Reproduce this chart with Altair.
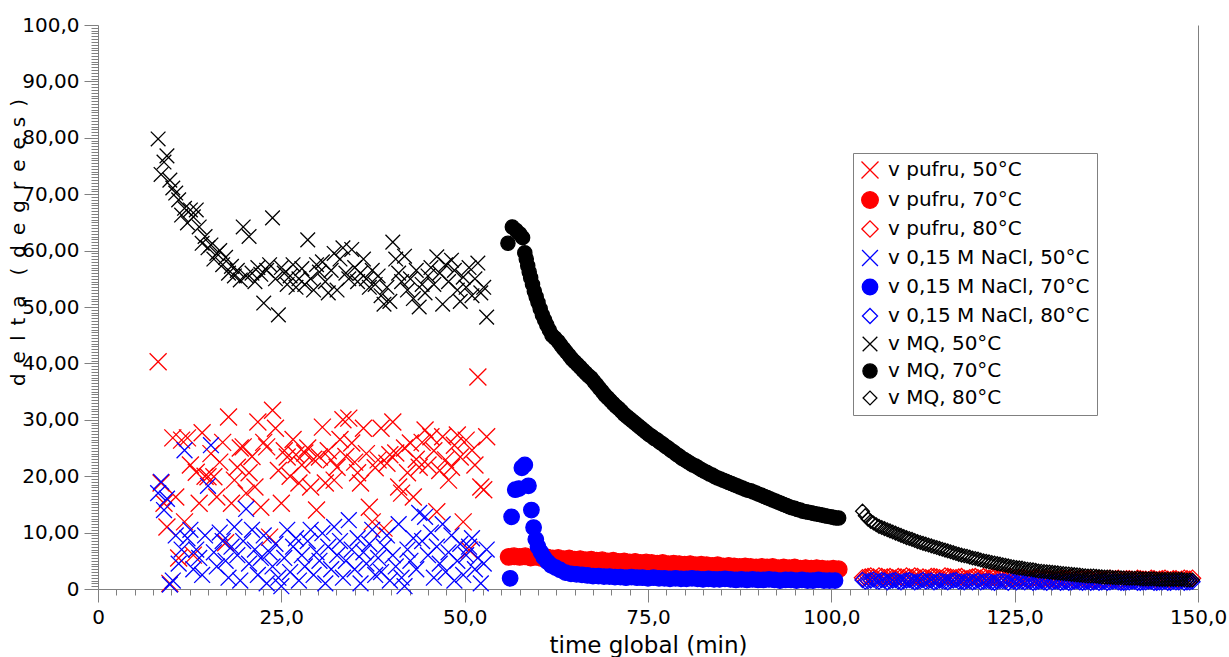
import altair as alt
import pandas as pd

# ---------------- data ----------------
t50 = [8.2, 8.6, 9.0, 9.4, 9.8, 10.2, 10.6, 11.0, 11.4, 11.8,
       12.2, 12.6, 13.0, 13.4, 13.8, 14.2, 14.6, 15.0, 15.4, 15.8,
       16.2, 16.6, 17.0, 17.4, 17.8, 18.2, 18.6, 19.0, 19.4, 19.8,
       20.2, 20.6, 21.0, 21.4, 21.8, 22.2, 22.6, 23.0, 23.4, 23.8,
       24.2, 24.6, 25.0, 25.4, 25.8, 26.2, 26.6, 27.0, 27.4, 27.8,
       28.2, 28.6, 29.0, 29.4, 29.8, 30.2, 30.6, 31.0, 31.4, 31.8,
       32.2, 32.6, 33.0, 33.4, 33.8, 34.2, 34.6, 35.0, 35.4, 35.8,
       36.2, 36.6, 37.0, 37.4, 37.8, 38.2, 38.6, 39.0, 39.4, 39.8,
       40.2, 40.6, 41.0, 41.4, 41.8, 42.2, 42.6, 43.0, 43.4, 43.8,
       44.2, 44.6, 45.0, 45.4, 45.8, 46.2, 46.6, 47.0, 47.4, 47.8,
       48.2, 48.6, 49.0, 49.4, 49.8, 50.2, 50.6, 51.0, 51.4, 51.8,
       52.2, 52.6, 53.0]

pufru50 = [40.3, 18.8, 15.2, 11.0, 1.0, 26.8, 16.3, 5.5, 26.4, 11.9,
           26.8, 22.0, 6.0, 20.7, 15.2, 27.7, 20.0, 19.9, 24.0, 19.9,
           16.3, 22.5, 26.0, 8.2, 30.5, 15.2, 19.3, 21.6, 25.0, 25.2,
           17.0, 20.6, 23.5, 18.1, 29.6, 14.5, 26.0, 25.2, 9.2, 31.7,
           28.5, 21.0, 15.2, 24.5, 23.4, 20.0, 26.5, 23.8, 18.8, 22.0,
           24.1, 25.0, 18.1, 23.0, 14.0, 23.4, 28.7, 18.8, 24.5, 22.9,
           19.3, 21.6, 26.5, 30.0, 23.5, 30.3, 25.9, 22.5, 20.6, 18.8,
           28.5, 24.0, 14.5, 11.9, 21.5, 22.9, 28.5, 10.8, 22.3, 23.8,
           29.6, 24.1, 18.1, 17.0, 25.0, 20.6, 25.9, 16.3, 23.0, 21.6,
           26.0, 28.2, 22.0, 27.0, 24.5, 13.7, 21.0, 27.0, 22.9, 19.3,
           21.6, 25.5, 27.3, 23.4, 11.9, 26.4, 6.9, 24.6, 22.0, 37.6,
           18.1, 17.6, 27.0]

nacl50 = [17.0, 19.0, 14.0, 16.0, 0.8, 1.5, 9.5, 4.5, 7.0, 24.6,
          9.0, 10.5, 3.5, 7.0, 5.5, 2.5, 9.5, 18.3, 25.5, 6.5,
          4.0, 10.0, 8.5, 5.0, 2.0, 7.5, 11.0, 6.0, 1.5, 8.5,
          14.2, 4.5, 10.5, 7.0, 2.5, 5.5, 9.5, 1.0, 6.5, 4.0,
          8.0, 2.0, 0.5, 5.5, 10.5, 3.0, 7.5, 9.0, 1.5, 6.0,
          4.0, 8.5, 10.5, 2.5, 6.5, 5.0, 9.9, 1.0, 7.5, 3.5,
          11.0, 6.0, 8.5, 2.0, 5.0, 12.2, 7.0, 3.5, 9.0, 1.0,
          6.5, 4.5, 8.0, 10.5, 2.5, 5.5, 3.0, 7.5, 9.5, 1.5,
          6.0, 4.0, 11.5, 2.0, 0.5, 7.0, 5.0, 9.0, 3.5, 13.5,
          8.5, 12.8, 6.0, 10.0, 2.0, 7.5, 4.5, 11.5, 3.0, 6.5,
          9.5, 1.5, 5.0, 8.0, 2.5, 6.0, 7.5, 9.0, 3.5, 5.5,
          1.0, 4.5, 7.0]

mq50 = [79.8, 73.5, 75.7, 76.8, 72.5, 71.1, 70.2, 69.0, 66.3, 67.5,
        64.9, 67.2, 66.0, 67.2, 64.2, 61.3, 62.5, 60.5, 61.0, 58.5,
        59.5, 60.0, 57.5, 58.8, 56.0, 57.2, 55.5, 56.5, 54.8, 64.2,
        55.5, 62.5, 56.0, 54.5, 57.0, 55.8, 50.7, 56.5, 57.5, 65.8,
        55.0, 48.6, 57.0, 56.0, 54.0, 55.5, 57.5, 53.5, 55.0, 56.8,
        54.0, 61.9, 55.0, 53.0, 57.5, 56.2, 58.0, 54.5, 52.5, 56.5,
        59.5, 53.0, 58.5, 60.5, 56.0, 55.0, 60.2, 57.0, 54.5, 56.0,
        58.5, 55.0, 53.5, 56.5, 54.0, 55.5, 52.0, 50.5, 53.5, 51.0,
        61.5, 58.5, 56.0, 54.5, 59.0, 53.0, 55.0, 51.5, 56.5, 50.0,
        54.0, 52.5, 55.5, 57.0, 54.0, 58.9, 56.0, 50.5, 57.5, 54.5,
        58.3, 56.5, 53.0, 51.0, 55.3, 53.5, 57.0, 52.0, 55.0, 57.8,
        52.5, 53.5, 48.2]

t70 = [56.0, 56.75, 57.5, 58.25, 59.0, 59.75, 60.5, 61.25, 62.0, 62.75,
       63.5, 64.25, 65.0, 65.75, 66.5, 67.25, 68.0, 68.75, 69.5, 70.25,
       71.0, 71.75, 72.5, 73.25, 74.0, 74.75, 75.5, 76.25, 77.0, 77.75,
       78.5, 79.25, 80.0, 80.75, 81.5, 82.25, 83.0, 83.75, 84.5, 85.25,
       86.0, 86.75, 87.5, 88.25, 89.0, 89.75, 90.5, 91.25, 92.0, 92.75,
       93.5, 94.25, 95.0, 95.75, 96.5, 97.25, 98.0, 98.75, 99.5, 100.25,
       101.0]

pufru70 = [5.7, 5.8, 5.7, 5.8, 5.6, 5.7, 5.5, 5.6, 5.4, 5.5,
           5.3, 5.4, 5.2, 5.3, 5.1, 5.2, 5.0, 5.1, 4.9, 5.0,
           4.8, 4.9, 4.7, 4.8, 4.6, 4.7, 4.6, 4.5, 4.6, 4.4,
           4.5, 4.4, 4.3, 4.4, 4.2, 4.3, 4.2, 4.1, 4.2, 4.0,
           4.1, 4.0, 3.9, 4.0, 3.9, 3.8, 3.9, 3.8, 3.9, 3.7,
           3.8, 3.7, 3.8, 3.6, 3.7, 3.6, 3.7, 3.6, 3.5, 3.6,
           3.5]

t_nacl70 = [56.2, 56.4, 56.9, 57.4, 57.8, 58.2, 58.7, 59.1, 59.4, 59.7,
            60.0, 60.4, 60.8, 61.3, 61.8, 62.4, 63.0,
            63.75, 64.5, 65.25, 66.0, 66.75, 67.5, 68.25, 69.0, 69.75, 70.5,
            71.25, 72.0, 72.75, 73.5, 74.25, 75.0, 75.75, 76.5, 77.25, 78.0,
            78.75, 79.5, 80.25, 81.0, 81.75, 82.5, 83.25, 84.0, 84.75, 85.5,
            86.25, 87.0, 87.75, 88.5, 89.25, 90.0, 90.75, 91.5, 92.25, 93.0,
            93.75, 94.5, 95.25, 96.0, 96.75, 97.5, 98.25, 99.0, 99.75, 100.5]
nacl70 = [1.9, 12.8, 17.6, 17.8, 21.5, 22.0, 18.3, 14.0, 10.9, 8.8,
          7.5, 6.5, 5.6, 4.8, 4.2, 3.8, 3.4,
          2.9, 2.7, 2.6, 2.5, 2.4, 2.3, 2.3, 2.2, 2.2, 2.1,
          2.1, 2.0, 2.1, 2.0, 2.0, 1.9, 2.0, 1.9, 1.9, 1.8,
          1.9, 1.8, 1.8, 1.9, 1.8, 1.7, 1.8, 1.7, 1.7, 1.8,
          1.7, 1.6, 1.7, 1.6, 1.7, 1.6, 1.6, 1.7, 1.6, 1.5,
          1.6, 1.6, 1.5, 1.6, 1.5, 1.5, 1.6, 1.5, 1.5, 1.5]

t_mq70_start = [55.9, 56.5, 57.0, 57.5, 57.9, 58.2, 58.4, 58.6, 58.8, 59.0,
                59.25, 59.5, 59.75, 60.0, 60.3, 60.6, 60.9, 61.2, 61.55, 61.9,
                62.3]
mq70_start = [61.3, 64.2, 63.6, 63.0, 62.3, 59.6, 58.5, 57.3, 56.2, 55.2,
              54.0, 52.8, 51.8, 50.8, 49.7, 48.6, 47.7, 46.8, 45.9, 45.0,
              44.5]
mq70_grid = [43.9, 42.6, 41.4, 40.3, 39.3, 38.3, 37.4, 36.2, 35.0, 33.9,
             32.9, 32.0, 31.0, 30.2, 29.4, 28.6, 27.8, 27.1, 26.4, 25.7,
             25.0, 24.3, 23.6, 22.9, 22.3, 21.8, 21.2, 20.7, 20.2, 19.7,
             19.3, 18.9, 18.5, 18.1, 17.7, 17.4, 17.0, 16.6, 16.2, 15.8,
             15.4, 15.0, 14.6, 14.3, 14.0, 13.7, 13.5, 13.3, 13.1, 12.9,
             12.7, 12.6]
t_mq70_mid = [63.125, 63.875, 64.625, 65.375, 66.125, 66.875, 67.625, 68.375, 69.125, 69.875,
              70.625, 71.375, 72.125, 72.875, 73.625, 74.375, 75.125, 75.875, 76.625, 77.375,
              78.125, 78.875, 79.625, 80.375, 81.125, 81.875, 82.625, 83.375, 84.125, 84.875,
              85.625, 86.375, 87.125, 87.875, 88.625, 89.375, 90.125, 90.875, 91.625, 92.375,
              93.125, 93.875, 94.625, 95.375, 96.125, 96.875, 97.625, 98.375, 99.125, 99.875,
              100.625]
mq70_mid = [43.2, 42.0, 40.8, 39.8, 38.8, 37.8, 36.8, 35.6, 34.4, 33.4,
            32.4, 31.5, 30.6, 29.8, 29.0, 28.2, 27.4, 26.7, 26.0, 25.3,
            24.6, 23.9, 23.2, 22.6, 22.0, 21.5, 20.9, 20.4, 19.9, 19.5,
            19.1, 18.7, 18.3, 17.9, 17.5, 17.2, 16.8, 16.4, 16.0, 15.6,
            15.2, 14.8, 14.4, 14.1, 13.8, 13.6, 13.4, 13.2, 13.0, 12.8,
            12.6]
t_mq70 = t_mq70_start + t70[9:] + t_mq70_mid
mq70 = mq70_start + mq70_grid + mq70_mid

t80_grid = [104.25, 105.0, 105.75, 106.5, 107.25, 108.0, 108.75, 109.5, 110.25, 111.0,
            111.75, 112.5, 113.25, 114.0, 114.75, 115.5, 116.25, 117.0, 117.75, 118.5,
            119.25, 120.0, 120.75, 121.5, 122.25, 123.0, 123.75, 124.5, 125.25, 126.0,
            126.75, 127.5, 128.25, 129.0, 129.75, 130.5, 131.25, 132.0, 132.75, 133.5,
            134.25, 135.0, 135.75, 136.5, 137.25, 138.0, 138.75, 139.5, 140.25, 141.0,
            141.75, 142.5, 143.25, 144.0, 144.75, 145.5, 146.25, 147.0, 147.75, 148.5,
            149.25]
t80_mid = [104.625, 105.375, 106.125, 106.875, 107.625, 108.375, 109.125, 109.875, 110.625, 111.375,
           112.125, 112.875, 113.625, 114.375, 115.125, 115.875, 116.625, 117.375, 118.125, 118.875,
           119.625, 120.375, 121.125, 121.875, 122.625, 123.375, 124.125, 124.875, 125.625, 126.375,
           127.125, 127.875, 128.625, 129.375, 130.125, 130.875, 131.625, 132.375, 133.125, 133.875,
           134.625, 135.375, 136.125, 136.875, 137.625, 138.375, 139.125, 139.875, 140.625, 141.375,
           142.125, 142.875, 143.625, 144.375, 145.125, 145.875, 146.625, 147.375, 148.125, 148.875]
t80 = t80_grid + t80_mid

pufru80 = [2.0, 2.2, 2.1, 2.3, 2.0, 2.2, 1.9, 2.1, 2.3, 2.0,
           2.2, 2.1, 1.9, 2.2, 2.0, 2.3, 2.1, 2.0, 2.2, 1.8,
           2.1, 2.0, 2.2, 1.9, 2.1, 2.0, 1.8, 2.1, 1.9, 2.0,
           1.7, 1.9, 2.0, 1.8, 1.9, 1.6, 1.9, 1.8, 2.0, 1.7,
           1.8, 1.9, 1.6, 1.8, 1.7, 1.9, 1.8, 1.6, 1.8, 1.7,
           1.9, 1.7, 1.6, 1.8, 1.7, 1.9, 1.6, 1.8, 1.7, 1.8,
           1.9,
           2.1, 2.3, 1.9, 2.2, 2.1, 2.0, 2.2, 2.0, 2.1, 2.3,
           1.9, 2.0, 2.2, 2.1, 1.9, 2.2, 2.0, 2.1, 1.9, 2.0,
           2.2, 1.9, 2.0, 2.1, 1.9, 2.0, 2.1, 1.8, 2.0, 1.9,
           1.8, 2.0, 1.7, 1.9, 1.8, 1.7, 1.9, 1.8, 1.6, 1.9,
           1.7, 1.8, 1.9, 1.6, 1.8, 1.7, 1.9, 1.7, 1.8, 1.6,
           1.8, 1.7, 1.9, 1.6, 1.8, 1.7, 1.8, 1.6, 1.9, 1.7]
nacl80 = [1.6, 1.4, 1.7, 1.3, 1.5, 1.4, 1.6, 1.2, 1.5, 1.4,
          1.3, 1.6, 1.4, 1.2, 1.5, 1.3, 1.4, 1.6, 1.3, 1.4,
          1.2, 1.5, 1.3, 1.4, 1.1, 1.4, 1.3, 1.5, 1.2, 1.3,
          1.4, 1.1, 1.3, 1.2, 1.4, 1.3, 1.1, 1.3, 1.2, 1.4,
          1.1, 1.3, 1.2, 1.1, 1.3, 1.2, 1.4, 1.1, 1.2, 1.3,
          1.1, 1.2, 1.3, 1.1, 1.2, 1.3, 1.1, 1.2, 1.4, 1.2,
          1.3,
          1.3, 1.5, 1.4, 1.6, 1.2, 1.5, 1.3, 1.4, 1.6, 1.2,
          1.4, 1.3, 1.5, 1.3, 1.4, 1.2, 1.5, 1.3, 1.2, 1.4,
          1.3, 1.2, 1.4, 1.2, 1.3, 1.4, 1.1, 1.3, 1.4, 1.2,
          1.3, 1.2, 1.4, 1.1, 1.2, 1.3, 1.2, 1.1, 1.3, 1.2,
          1.2, 1.1, 1.3, 1.2, 1.1, 1.3, 1.2, 1.1, 1.2, 1.3,
          1.1, 1.2, 1.3, 1.1, 1.2, 1.1, 1.3, 1.2, 1.1, 1.2]
mq80 = [13.8, 12.4, 11.7, 11.1, 10.7, 10.3, 9.9, 9.5, 9.1, 8.8,
        8.4, 8.1, 7.8, 7.5, 7.2, 6.9, 6.6, 6.3, 6.0, 5.8,
        5.5, 5.3, 5.0, 4.8, 4.6, 4.4, 4.2, 4.0, 3.8, 3.7,
        3.5, 3.4, 3.2, 3.1, 3.0, 2.9, 2.8, 2.7, 2.6, 2.5,
        2.4, 2.3, 2.3, 2.2, 2.1, 2.1, 2.0, 2.0, 1.9, 1.9,
        1.9, 1.8, 1.8, 1.8, 1.7, 1.7, 1.7, 1.7, 1.7, 1.6,
        1.6,
        13.0, 12.0, 11.4, 10.9, 10.5, 10.1, 9.7, 9.3, 8.95, 8.6,
        8.25, 7.95, 7.65, 7.35, 7.05, 6.75, 6.45, 6.15, 5.9, 5.65,
        5.4, 5.15, 4.9, 4.7, 4.5, 4.3, 4.1, 3.9, 3.75, 3.6,
        3.45, 3.3, 3.15, 3.05, 2.95, 2.85, 2.75, 2.65, 2.55, 2.45,
        2.35, 2.3, 2.25, 2.15, 2.1, 2.05, 2.0, 1.95, 1.9, 1.9,
        1.85, 1.8, 1.8, 1.75, 1.7, 1.7, 1.7, 1.7, 1.65, 1.6]

labels = ["v pufru, 50°C", "v pufru, 70°C", "v pufru, 80°C",
          "v 0,15 M NaCl, 50°C", "v 0,15 M NaCl, 70°C", "v 0,15 M NaCl, 80°C",
          "v MQ, 50°C", "v MQ, 70°C", "v MQ, 80°C"]
series = [(t50, pufru50), (t70, pufru70), (t80, pufru80),
          (t50, nacl50), (t_nacl70, nacl70), (t80, nacl80),
          (t50, mq50), (t_mq70, mq70), (t80, mq80)]

# ---------------- styles ----------------
XPATH = "M-1,-1L1,1M-1,1L1,-1"
colors = ["#ff0000"] * 3 + ["#0000ff"] * 3 + ["#000000"] * 3
shapes = [XPATH, "circle", "diamond"] * 3
fills = ["transparent", "#ff0000", "transparent",
         "transparent", "#0000ff", "transparent",
         "transparent", "#000000", "transparent"]
sizes = [289, 190, 121] * 3

rows = []
for lab, (xs, ys) in zip(labels, series):
    for xv, yv in zip(xs, ys):
        rows.append({"x": xv, "y": yv, "series": lab})
df = pd.DataFrame(rows)

FONT = "DejaVu Sans"
GRAY = "#808080"

x_ticks = [i * 2.5 for i in range(61)]
y_ticks = [i * 0.5 for i in range(201)]

ytitle = "\u2002".join(list("delta")) + "\u2002\u2002" + "\u2002".join(list("(degrees)"))

xscale = alt.Scale(domain=[0, 150], nice=False, zero=False)
yscale = alt.Scale(domain=[0, 100], nice=False, zero=False)

x_axis = alt.Axis(
    values=x_ticks,
    labelExpr="datum.value === 0 ? '0' : (datum.value % 25 === 0 ? datum.value + ',0' : '')",
    tickSize={"condition": {"test": "datum.value % 25 === 0", "value": 13}, "value": 6},
    labelFlush=False, labelOverlap=False, grid=False,
    domainColor=GRAY, tickColor=GRAY, labelColor="black",
    labelFont=FONT, labelFontSize=20, labelPadding=5,
    title="time global (min)", titleFont=FONT, titleFontSize=23,
    titleFontWeight="normal", titleColor="black",
    titleBaseline="alphabetic", titleY=63, titleX=550, titleAlign="center",
)
y_axis = alt.Axis(
    values=y_ticks,
    labelExpr="datum.value === 0 ? '0' : (datum.value === 100 ? '100,0' : (datum.value % 10 === 0 ? datum.value + ',00' : ''))",
    tickSize={"condition": {"test": "datum.value % 10 === 0", "value": 14}, "value": 7},
    labelFlush=False, labelOverlap=False, grid=False,
    domainColor=GRAY, tickColor=GRAY, labelColor="black",
    labelFont=FONT, labelFontSize=20, labelPadding=5,
    title=ytitle, titleFont=FONT, titleFontSize=20, titleFontWeight="normal",
    titleColor="black", titleAngle=270, titleX=-74, titleY=217,
    titleBaseline="alphabetic", titleAlign="center",
)

points = alt.Chart(df).mark_point(filled=False, opacity=1, strokeWidth=1.3).encode(
    x=alt.X("x:Q", scale=xscale, axis=x_axis),
    y=alt.Y("y:Q", scale=yscale, axis=y_axis),
    color=alt.Color("series:N", scale=alt.Scale(domain=labels, range=colors), legend=alt.Legend(title=None)),
    fill=alt.Fill("series:N", scale=alt.Scale(domain=labels, range=fills), legend=alt.Legend(title=None)),
    shape=alt.Shape("series:N", scale=alt.Scale(domain=labels, range=shapes), legend=alt.Legend(title=None)),
    size=alt.Size("series:N", scale=alt.Scale(domain=labels, range=sizes), legend=alt.Legend(title=None)),
)

frame = alt.Chart(df).mark_point(opacity=0).encode(
    x=alt.X("x:Q", scale=xscale, axis=x_axis),
    y=alt.Y("y:Q", scale=yscale,
            axis=alt.Axis(orient="right", labels=False, ticks=False, grid=False,
                          title=None, domainColor=GRAY)),
)

chart = alt.layer(points, frame).resolve_axis(y="independent").properties(
    width=1100, height=564,
    autosize=alt.AutoSizeParams(type="none"),
    padding={"left": 98, "top": 25, "right": 31, "bottom": 68},
).configure_view(stroke=None).configure_legend(
    orient="none", legendX=755, legendY=128, padding=7,
    strokeColor=GRAY, fillColor="white", labelFont=FONT, labelFontSize=20,
    labelColor="black", labelLimit=400, rowPadding=7, labelOffset=8,
    symbolStrokeWidth=1.3, symbolOpacity=1,
)

chart.save("out.html", embed_options={"renderer": "svg", "actions": False})
